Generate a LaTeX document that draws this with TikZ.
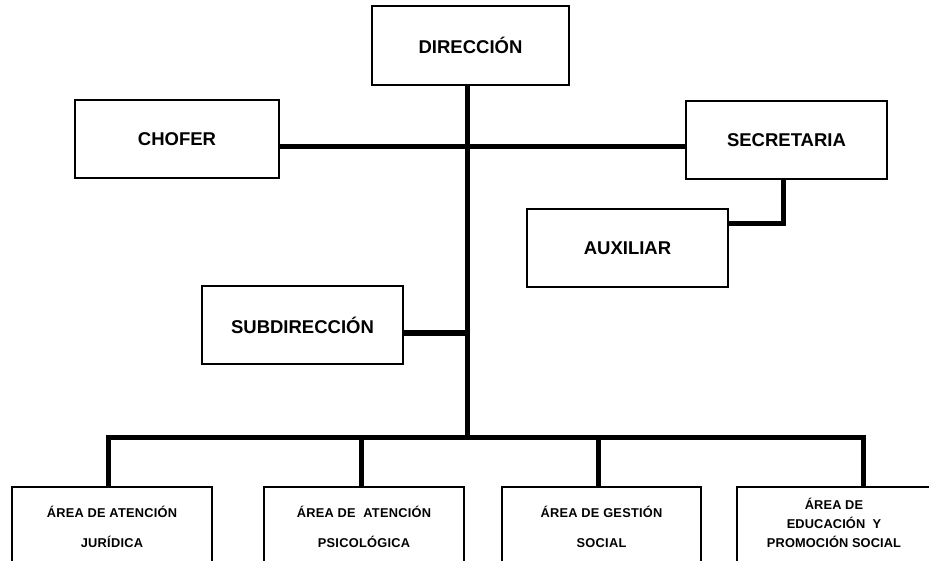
\documentclass[tikz,border=0pt]{standalone}
\usepackage{fontspec}
\setmainfont{Liberation Sans}
\begin{document}
\begin{tikzpicture}[x=1pt,y=-1pt,
  box/.style={draw=black,line width=1.5pt,rectangle,inner sep=0pt,align=center,
    font=\bfseries\fontsize{18.5}{22}\selectfont},
  areabox/.style={draw=black,line width=1.5pt,rectangle,inner sep=0pt,
    minimum height=76pt},
  areatext/.style={inner sep=0pt,align=center,
    font=\bfseries\fontsize{12.8}{30}\selectfont\addfontfeature{LetterSpace=2}},
  conn/.style={line width=5pt,line cap=butt}]
\useasboundingbox[fill=white] (0,0) rectangle (929,561);
% top boxes
\node[box,minimum width=197pt,minimum height=79pt] (dir) at (470.5,45.5) {DIRECCI\'ON};
\node[box,minimum width=204pt,minimum height=78pt] (chofer) at (177,139) {CHOFER};
\node[box,minimum width=201pt,minimum height=78pt] (secr) at (786.5,140) {SECRETARIA};
\node[box,minimum width=201pt,minimum height=78pt] (aux) at (627.5,248) {AUXILIAR};
\node[box,minimum width=201pt,minimum height=78pt] (sub) at (302.5,325) {SUBDIRECCI\'ON};
% bottom boxes
\node[areabox,minimum width=200pt] (a1) at (112,525) {};
\node[areabox,minimum width=200pt] (a2) at (364,525) {};
\node[areabox,minimum width=199pt] (a3) at (601.5,525) {};
\node[areabox,minimum width=196pt] (a4) at (835,525) {};
\node[areatext] (t1) at (112,527) {\'AREA DE ATENCI\'ON\\JUR\'IDICA};
\node[areatext] (t2) at (364,527) {\'AREA DE \ ATENCI\'ON\\PSICOL\'OGICA};
\node[areatext] (t3) at (601.5,527) {\'AREA DE GESTI\'ON\\SOCIAL};
\node[areatext,font=\bfseries\fontsize{12.8}{19}\selectfont\addfontfeature{LetterSpace=1}] (t4) at (834,523) {\'AREA DE\\EDUCACI\'ON \ Y\\PROMOCI\'ON SOCIAL};
% coordinates
\coordinate (trunkbot) at (467,437);
\coordinate (barL) at (108,437);
\coordinate (barR) at (863,437);
\coordinate (d2) at (361,437);
\coordinate (d3) at (598,437);
\coordinate (sa) at (783,224);
% connectors
\draw[conn] (dir.south -| trunkbot) -- (trunkbot);
\draw[conn] (chofer.east |- 0,147) -- (secr.west |- 0,147);
\draw[conn] (sub.east |- 0,333) -- (trunkbot |- 0,333);
\draw[conn,line join=miter] (secr.south -| sa) -- (sa) -- (aux.east |- sa);
\draw[conn,line cap=rect] (barL) -- (barR);
\draw[conn] (barL) -- (barL |- a1.north);
\draw[conn] (d2) -- (d2 |- a2.north);
\draw[conn] (d3) -- (d3 |- a3.north);
\draw[conn] (barR) -- (barR |- a4.north);
\end{tikzpicture}
\end{document}
